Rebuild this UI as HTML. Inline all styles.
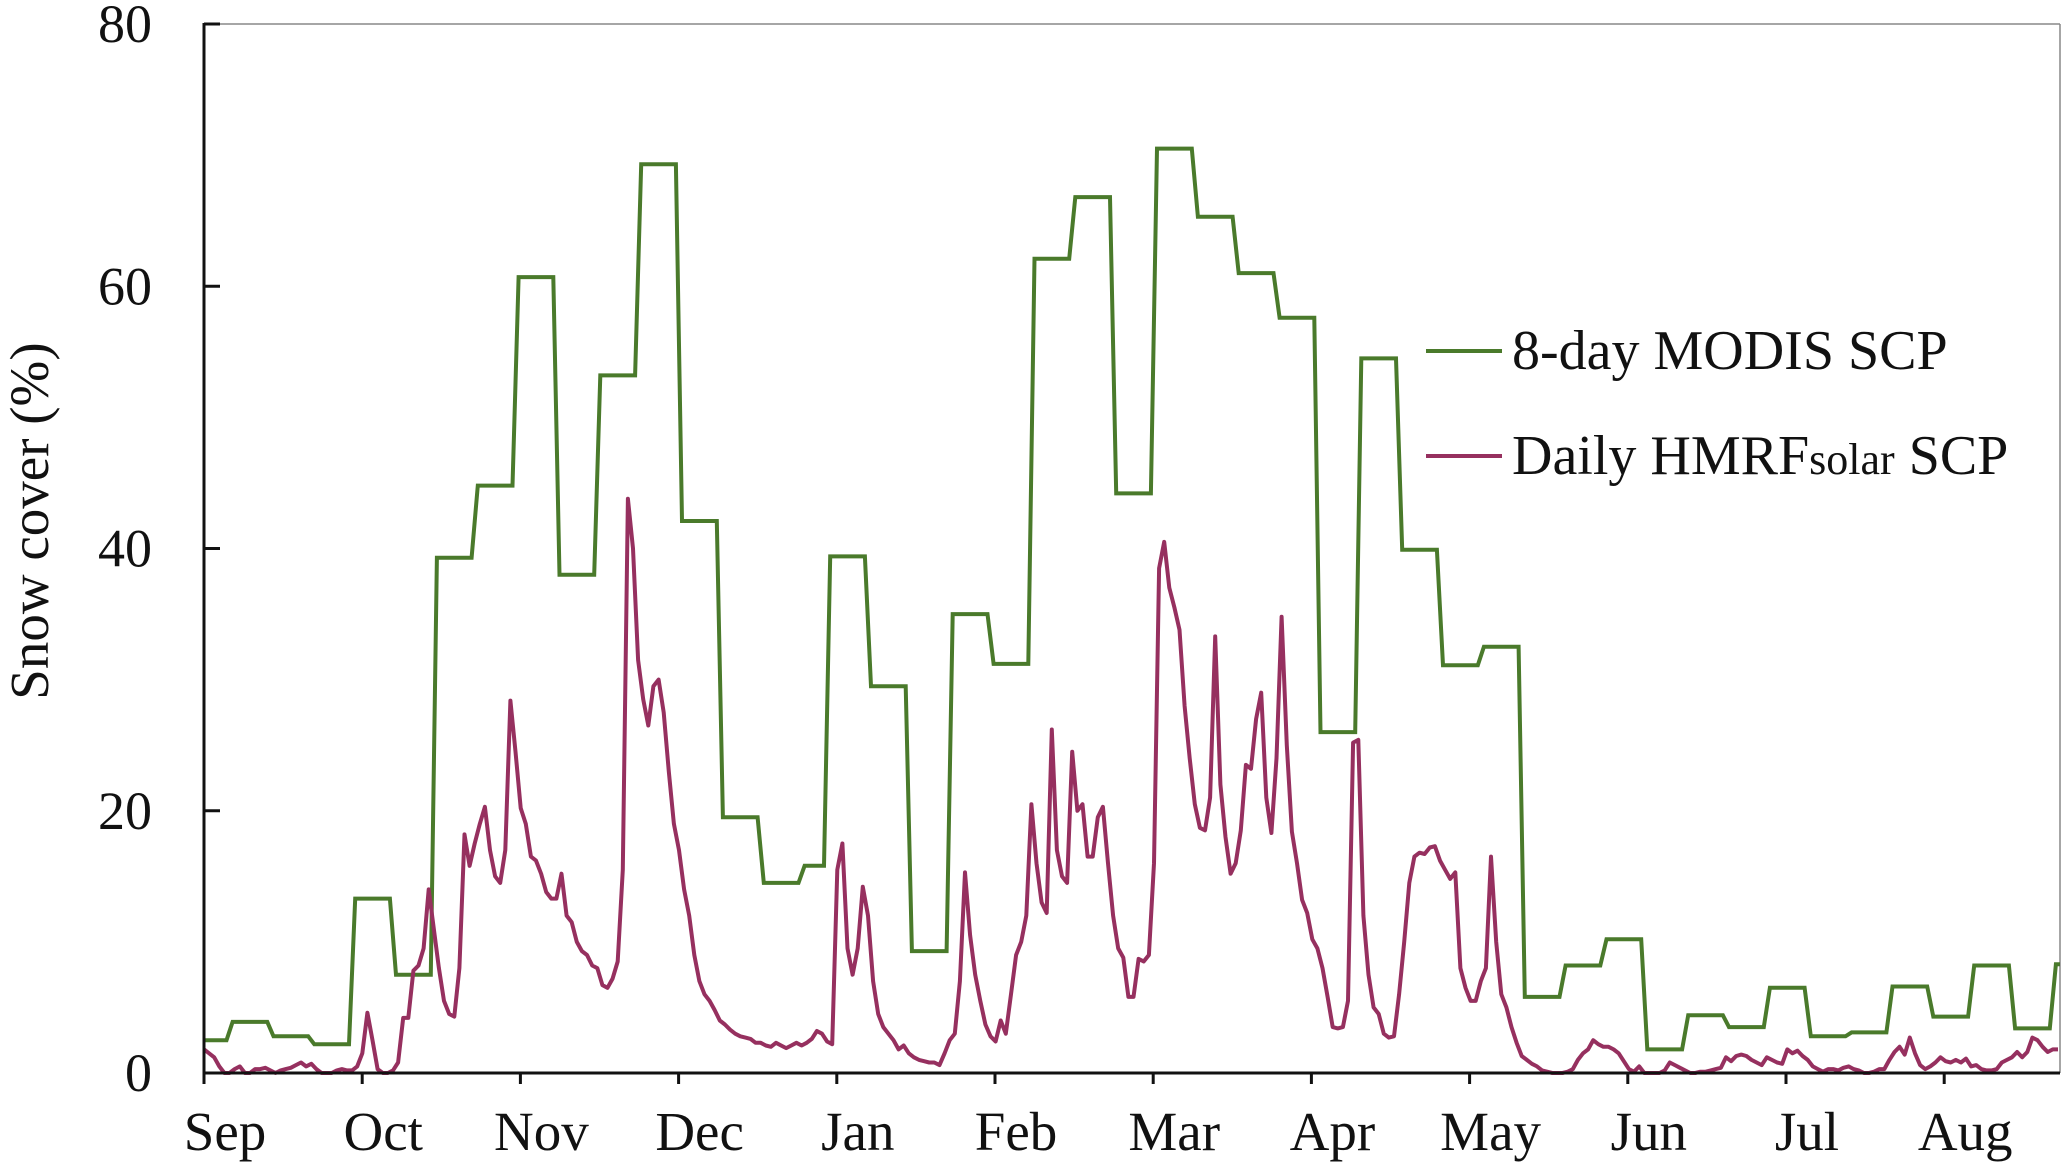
<!DOCTYPE html>
<html><head><meta charset="utf-8"><style>
html,body{margin:0;padding:0;background:#fff;}
svg{display:block;font-family:"Liberation Serif",serif;}
</style></head><body>
<svg id="chart" width="2067" height="1167" viewBox="0 0 2067 1167" xmlns="http://www.w3.org/2000/svg">
<rect x="0" y="0" width="2067" height="1167" fill="#fff"/>
<g id="plot"></g>
<text transform="translate(48,521) rotate(-90)" text-anchor="middle" font-size="55" fill="#111">Snow cover (%)</text>
<g>
<line x1="1426" y1="351" x2="1502" y2="351" stroke="#4a7a2b" stroke-width="4"/>
<text x="1512" y="369" font-size="56" fill="#111">8-day MODIS SCP</text>
<line x1="1426" y1="456" x2="1502" y2="456" stroke="#96305f" stroke-width="4"/>
<text x="1512" y="474" font-size="56" fill="#111">Daily HMRF<tspan font-size="44">solar</tspan> SCP</text>
</g>
</svg>
<script>
const months = ["Sep","Oct","Nov","Dec","Jan","Feb","Mar","Apr","May","Jun","Jul","Aug"];
const yTicks = [0,20,40,60,80];
const modisStart = [-3,5,13,21,29,37,45,53,61,69,77,85,93,101,109,117,122,130,138,146,154,162,170,178,186,194,202,210,218,226,234,242,250,258,266,274,282,290,298,306,314,322,330,338,346,354,362];
const modisValues = [2.5,3.9,2.8,2.2,13.3,7.5,39.3,44.8,60.7,38,53.2,69.3,42.1,19.5,14.5,15.8,39.4,29.5,9.3,35,31.2,62.1,66.8,44.2,70.5,65.3,61,57.6,26,54.5,39.9,31.1,32.5,5.8,8.2,10.2,1.8,4.4,3.5,6.5,2.8,3.1,6.6,4.3,8.2,3.4,8.3];
const dailyValues = [1.8,1.5,1.2,0.5,0,0,0.3,0.5,0,0,0.3,0.3,0.4,0.2,0,0.2,0.3,0.4,0.6,0.8,0.5,0.7,0.3,0,0,0,0.2,0.3,0.2,0.2,0.5,
1.5,4.6,2.5,0.3,0,0,0.2,0.8,4.2,4.2,7.8,8.2,9.5,14,11,8,5.5,4.5,4.3,8,18.2,15.8,17.5,19,20.3,17,15,14.5,17,28.4,24.5,
20.2,19,16.5,16.2,15.2,13.8,13.3,13.3,15.2,12,11.5,10,9.3,9,8.2,8,6.7,6.5,7.2,8.5,15.5,43.8,40,31.5,28.5,26.5,29.5,30,27.5,23,19,17,14,12,
9,7,6,5.5,4.8,4,3.7,3.3,3,2.8,2.7,2.6,2.3,2.3,2.1,2.0,2.3,2.1,1.9,2.1,2.3,2.1,2.3,2.6,3.2,3.0,2.4,2.2,15.5,17.5,9.5,7.5,9.5,14.2,12,7,4.5,3.5,3,2.5,1.8,2.1,1.5,1.2,1,0.9,0.8,0.8,0.6,1.5,2.5,3,7,15.3,10.5,7.5,5.5,3.7,2.8,2.4,4,3,6,9,10,12,20.5,16,13,12.2,26.2,17,15,14.5,24.5,20,20.5,16.5,16.5,19.5,20.3,16,12,9.5,8.8,5.8,5.8,8.7,8.5,9,16,38.5,40.5,37,35.5,33.8,28,24,20.5,18.7,18.5,21,33.3,22,18,15.2,16,18.5,23.5,23.2,27,29,21,18.3,24,34.8,25,18.4,16,13.2,12.2,10.2,9.5,8,5.8,3.5,3.4,3.5,5.5,25.2,25.4,12,7.5,5,4.5,3,2.7,2.8,6,10,14.5,16.5,16.8,16.7,17.2,17.3,16.2,15.5,14.8,15.3,8,6.5,5.5,5.5,7,8,16.5,10,6,5,3.5,2.3,1.3,1,0.7,0.5,0.2,0.1,0,0,0,0.1,0.3,1,1.5,1.8,2.5,2.2,2,2,1.8,1.5,0.9,0.3,0.1,0.5,0,0,0,0,0.2,0.8,0.6,0.4,0.2,0,0,0.1,0.1,0.2,0.3,0.4,1.2,0.9,1.3,1.4,1.3,1,0.8,0.6,1.2,1,0.8,0.7,1.8,1.5,1.7,1.3,1,0.5,0.3,0.1,0.3,0.3,0.2,0.4,0.5,0.3,0.2,0,0,0.1,0.3,0.3,1,1.6,2,1.4,2.7,1.5,0.6,0.3,0.5,0.8,1.2,0.9,0.8,1,0.8,1.1,0.5,0.6,0.3,0.2,0.2,0.3,0.8,1,1.2,1.6,1.2,1.6,2.7,2.5,2.0,1.6,1.8,1.8];

const NS="http://www.w3.org/2000/svg";
const L=204,R=2060,T=24,B=1073,DMAX=363.4,YMAX=80;
const monthWidth=158.2;
function xs(d){return L+(d/DMAX)*(R-L);}
function ys(v){return B-(v/YMAX)*(B-T);}
function mk(tag,attrs,parent){const e=document.createElementNS(NS,tag);for(const k in attrs)e.setAttribute(k,attrs[k]);parent.appendChild(e);return e;}
const plot=document.getElementById('plot');

let e;
e=mk('line',{x1:L,y1:T,x2:R,y2:T,stroke:'#888','stroke-width':1.5},plot);


e=mk('line',{x1:R,y1:T,x2:R,y2:B,stroke:'#888','stroke-width':1.5},plot);



yTicks.forEach(v=>{
  const y=ys(v);
  const t=mk('line',{x1:L,y1:y,x2:L+16,y2:y,stroke:'#111','stroke-width':3},plot);
  
  
  const lb=mk('text',{x:L-52,y:y+18,'text-anchor':'end','font-size':54,fill:'#111'},plot);
  lb.textContent=v;
  
  
});
months.forEach((m,i)=>{
  const x=L+i*monthWidth;
  const t=mk('line',{x1:x,y1:B,x2:x,y2:B+11,stroke:'#111','stroke-width':3},plot);
  
  
  const lb=mk('text',{x:x+21,y:B+77,'text-anchor':'middle','font-size':55,fill:'#111'},plot);
  lb.textContent=m;
  
  
});

let pts=[];
modisStart.forEach((s,i)=>{
  const end=(i+1<modisStart.length)?modisStart[i+1]:s+8;
  const a=Math.max(s+0.6,0), b=Math.min(end-0.6,DMAX);
  if(b<=0) return;
  pts.push(xs(a).toFixed(1)+','+ys(modisValues[i]).toFixed(1));
  pts.push(xs(b).toFixed(1)+','+ys(modisValues[i]).toFixed(1));
});
e=mk('polyline',{points:pts.join(' '),fill:'none',stroke:'#4a7a2b','stroke-width':4,'stroke-linejoin':'miter'},plot);



pts=dailyValues.map((v,d)=>xs(Math.min(d,DMAX)).toFixed(1)+','+ys(v).toFixed(1));
e=mk('polyline',{points:pts.join(' '),fill:'none',stroke:'#96305f','stroke-width':4,'stroke-linejoin':'round'},plot);



e=mk('line',{x1:L,y1:T-1,x2:L,y2:B+1,stroke:'#111','stroke-width':3},plot);


e=mk('line',{x1:L,y1:B,x2:R,y2:B,stroke:'#111','stroke-width':3},plot);


</script>
</body></html>
